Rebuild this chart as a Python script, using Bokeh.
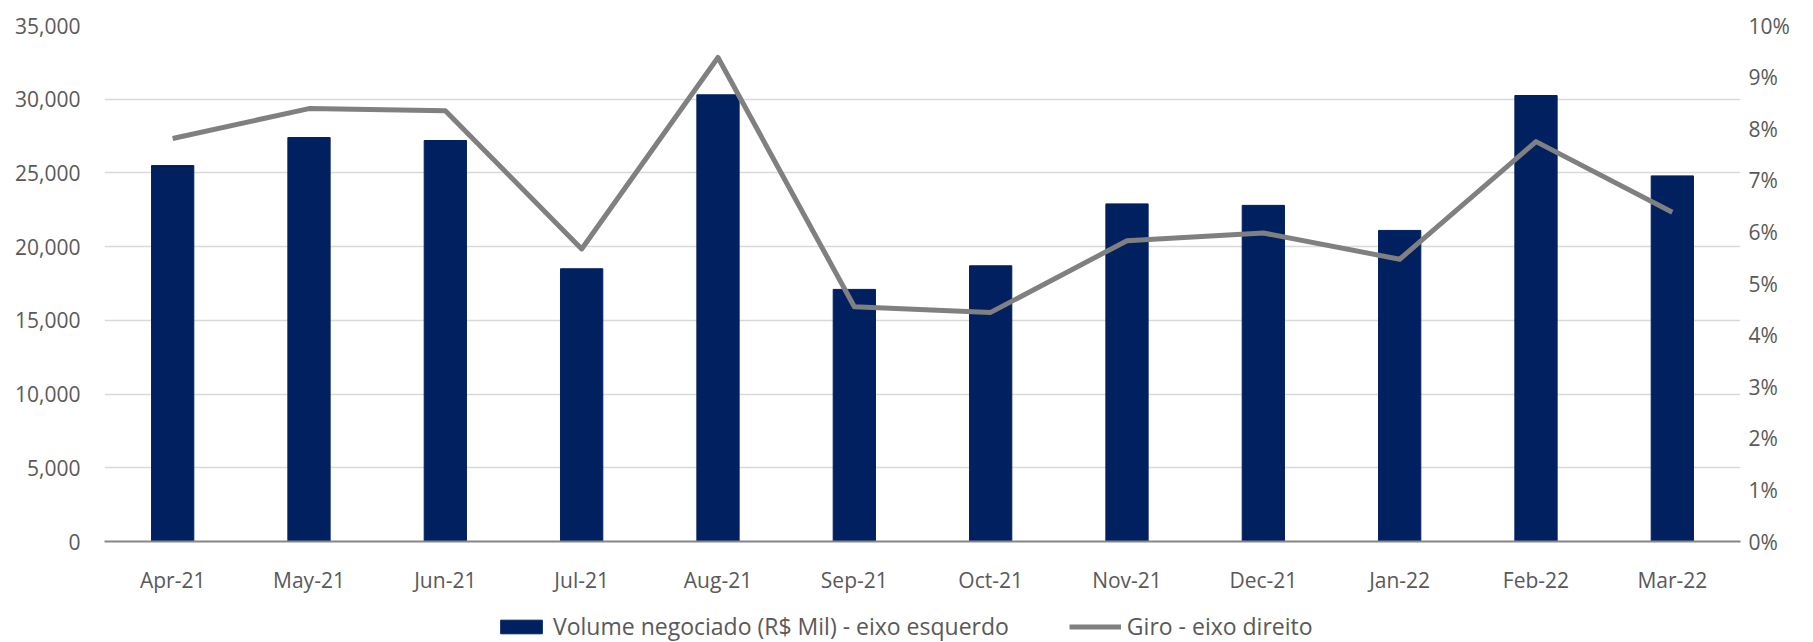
from bokeh.plotting import figure
from bokeh.layouts import column
from bokeh.models import (FactorRange, Range1d, LinearAxis, FixedTicker,
                          NumeralTickFormatter, Legend, LegendItem)
from bokeh.embed import file_html
from bokeh.resources import INLINE

months = ["Apr-21", "May-21", "Jun-21", "Jul-21", "Aug-21", "Sep-21",
          "Oct-21", "Nov-21", "Dec-21", "Jan-22", "Feb-22", "Mar-22"]
volume = [25500, 27400, 27200, 18500, 30300, 17100,
          18700, 22900, 22800, 21100, 30250, 24800]
giro = [0.0781, 0.0839, 0.0835, 0.0567, 0.0938, 0.0455,
        0.0444, 0.0583, 0.0598, 0.0547, 0.0775, 0.0638]
left_ticks = [0, 5000, 10000, 15000, 20000, 25000, 30000, 35000]
right_ticks = [0, 0.01, 0.02, 0.03, 0.04, 0.05, 0.06, 0.07, 0.08, 0.09, 0.10]
series_names = ["Volume negociado (R$ Mil) - eixo esquerdo", "Giro - eixo direito"]

FONT = "Open Sans"
TXT = "#595959"
BAR_COLOR = "#002060"
LINE_COLOR = "#808080"

p = figure(x_range=FactorRange(*months, range_padding=0),
           y_range=Range1d(0, 35000),
           width=1813, height=596,
           output_backend="svg", toolbar_location=None,
           min_border_left=104, min_border_right=73, min_border_top=25,
           min_border_bottom=47)
p.outline_line_color = None
p.extra_y_ranges = {"pct": Range1d(0, 0.10)}

p.vbar(x=months, top=volume, width=0.31, color=BAR_COLOR)
p.line(x=months, y=giro, y_range_name="pct", line_color=LINE_COLOR,
       line_width=5, line_join="round")

# axes
p.xaxis.axis_line_color = "#868686"
p.xaxis.axis_line_width = 2
p.xaxis.major_tick_line_color = None
p.xaxis.minor_tick_line_color = None
p.xaxis.major_label_standoff = 18
p.xaxis.major_label_text_font = FONT
p.xaxis.major_label_text_font_size = "21px"
p.xaxis.major_label_text_color = TXT

p.yaxis.ticker = FixedTicker(ticks=left_ticks)
p.yaxis.formatter = NumeralTickFormatter(format="0,0")
p.yaxis.axis_line_color = None
p.yaxis.major_tick_line_color = None
p.yaxis.minor_tick_line_color = None
p.yaxis.major_label_standoff = 18
p.yaxis.major_label_text_font = FONT
p.yaxis.major_label_text_font_size = "21px"
p.yaxis.major_label_text_color = TXT

ra = LinearAxis(y_range_name="pct", ticker=FixedTicker(ticks=right_ticks),
                formatter=NumeralTickFormatter(format="0%"))
ra.axis_line_color = None
ra.major_tick_line_color = None
ra.minor_tick_line_color = None
ra.major_label_standoff = 2
ra.major_label_text_font = FONT
ra.major_label_text_font_size = "21px"
ra.major_label_text_color = TXT
p.add_layout(ra, "right")

p.xgrid.grid_line_color = None
p.ygrid.grid_line_color = "#D9D9D9"
p.ygrid.grid_line_width = 1.5

# legend strip (separate small figure below the chart)
lg = figure(width=1813, height=46, x_range=Range1d(0, 1), y_range=Range1d(0, 1),
            output_backend="svg", toolbar_location=None,
            x_axis_type=None, y_axis_type=None,
            min_border_left=0, min_border_right=0, min_border_top=0,
            min_border_bottom=0)
lg.outline_line_color = None
lg.grid.visible = False
bar_proxy = lg.vbar(x=[-10], top=[-10], width=0.31, color=BAR_COLOR)
line_proxy = lg.line(x=[-10, -9], y=[-10, -10], line_color=LINE_COLOR, line_width=5)

legend = Legend(items=[
    LegendItem(label=series_names[0], renderers=[bar_proxy]),
    LegendItem(label=series_names[1], renderers=[line_proxy]),
], orientation="horizontal", location=(391, 0))
legend.border_line_color = None
legend.background_fill_alpha = 0
legend.label_text_font = FONT
legend.label_text_font_size = "23px"
legend.label_text_color = TXT
legend.glyph_width = 52
legend.glyph_height = 17
legend.label_standoff = 6
legend.spacing = 60
legend.padding = 0
legend.margin = 0
lg.add_layout(legend, "center")

layout = column(p, lg, spacing=0)
open("out.html", "w").write(file_html(layout, INLINE))
